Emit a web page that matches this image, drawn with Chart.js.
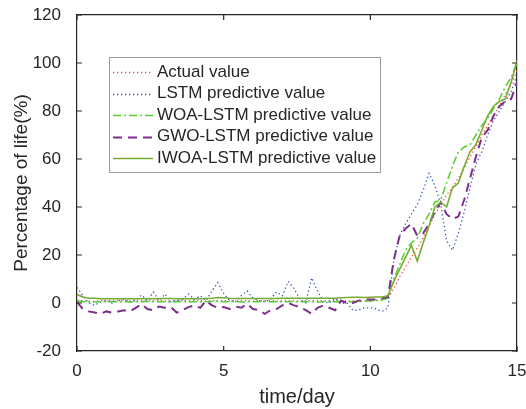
<!DOCTYPE html>
<html>
<head>
<meta charset="utf-8">
<script src="https://cdn.jsdelivr.net/npm/chart.js@4.4.1/dist/chart.umd.min.js"></script>
<style>
  html, body { margin: 0; padding: 0; background: #fff; }
</style>
</head>
<body>
<canvas id="myChart" width="526" height="409"></canvas>
<script>
// time axis (days)
const days = [0,0.2,0.4,0.6,0.8,1,1.2,1.4,1.6,1.8,
  2,2.2,2.4,2.6,2.8,3,3.2,3.4,3.6,3.8,
  4,4.2,4.4,4.6,4.8,5,5.2,5.4,5.6,5.8,
  6,6.2,6.4,6.6,6.8,7,7.2,7.4,7.6,7.8,
  8,8.2,8.4,8.6,8.8,9,9.2,9.4,9.6,9.8,
  10,10.2,10.4,10.6,10.8,11,11.2,11.4,11.6,11.8,
  12,12.2,12.4,12.6,12.8,13,13.2,13.4,13.6,13.8,
  14,14.2,14.4,14.6,14.8,15];

const actual = [1,1,0.8,0.8,1,1,0.9,1,1,0.8,
  1,1,0.9,1,1,0.8,1,1,1,0.9,
  1,1,0.8,1,1,1,0.9,1,1,1,
  0.8,1,1,1,0.9,1,1,1,0.8,1,
  1,1,0.9,1,1,1,0.8,1,1,1,
  1,1.2,1.5,2,6,11,15,19,23,27,
  32,37,41,45,48,52,56,61,65,70,
  74,78,82,87,91,97];

const lstm = [6.5,3,0,-1,0.5,1,0,1,1.5,0.5,
  1,3.3,1,4.5,1,3.7,0.5,1,1.5,3.7,
  1.5,3,1,5,8.5,4,1,0.5,3,5,
  2,1,0.5,1.5,4.6,3,9,6,1.5,0,
  10.5,5,0.5,0,2,0,0,-3,-3,-2,
  -2,-2.5,-3.5,-2,18,28,33,37,41,47,
  54,49,41,26,22,29,38,48,58,63,
  70,76,80,84,88,95];

const woaLstm = [1,0.5,0.5,0.4,0.5,0.5,0.6,0.5,0.5,0.4,
  0.5,0.5,0.6,0.5,0.5,0.5,0.4,0.5,0.6,0.5,
  0.5,0.5,0.5,0.6,0.7,0.5,0.5,0.5,0.4,0.5,
  0.5,0.5,0.6,0.5,0.5,0.5,0.5,0.6,0.5,0.5,
  0.5,0.4,0.5,0.5,0.6,0.5,0.5,0.5,0.6,0.7,
  0.8,1,1.2,2,10,16,22,25,27,33,
  37,42,43,50,57,63,65,66,70,74,
  77,81,85,90,94,100];

const gwoLstm = [0.5,-2.5,-3.5,-4,-4.5,-3.5,-4,-3.5,-3,-3.5,
  -2,-0.5,-2.5,-3,-1.5,-2,-1.7,-4,-3,-1.7,
  -1,-2,1,-1,-2,-1.7,-2.5,-1.5,-2,-0.4,
  -2.5,-3,-4.5,-3,-2.5,-1,0,-1,-1.7,-3,
  -4.5,-2,-1,-2,-3,1,0,0,1,1.5,
  1.5,1.5,2,2.5,18,28,31,33,28,29,
  33,38,42,37,35,36,43,52,61,69,
  72,78,82,84,85,92];

const iwoaLstm = [3.5,2.5,2,2,1.8,1.8,1.8,1.8,1.8,1.8,
  1.8,1.8,1.8,1.8,1.8,1.9,1.9,1.8,1.8,1.8,
  1.8,1.8,1.9,2,2.3,2.2,2,1.9,1.9,1.9,
  1.9,1.9,1.9,1.9,1.9,2,2,2,2,2,
  2,2,2,2,2,2.2,2.3,2.4,2.4,2.3,
  2.4,2.5,2.5,3,9,14,19,24,17.5,25,
  32,40,42,40,48,50,57,63,66,72,
  78,82,84,85,92,101];

const xTicks = [0, 5, 10, 15];
const yTicks = [-20, 0, 20, 40, 60, 80, 100, 120];

const FONT = "'Liberation Sans', Arial, sans-serif";
const AXIS = '#262626';

const pts = (arr) => days.map((d, i) => ({x: d, y: arr[i]}));

const data = {
  datasets: [
    { label: 'Actual value', data: pts(actual), borderColor: '#ff4a4a', borderWidth: 1.3, borderDash: [1.3, 2.7], order: 5 },
    { label: 'LSTM predictive value', data: pts(lstm), borderColor: '#3556c8', borderWidth: 1.3, borderDash: [1.3, 2.7], order: 4 },
    { label: 'WOA-LSTM predictive value', data: pts(woaLstm), borderColor: '#52cf2c', borderWidth: 1.5, borderDash: [8, 3, 2, 3], order: 3 },
    { label: 'GWO-LSTM predictive value', data: pts(gwoLstm), borderColor: '#7e2f8e', borderWidth: 2, borderDash: [9, 6], order: 2 },
    { label: 'IWOA-LSTM predictive value', data: pts(iwoaLstm), borderColor: '#77ac30', borderWidth: 1.6, order: 1 }
  ]
};

// inward ticks on all four sides, then the matlab-like legend
const ticksAndLegend = {
  id: 'ticksAndLegend',
  afterDraw(chart) {
    const {ctx} = chart;
    const x = chart.scales.x, y = chart.scales.y;
    const l = x.getPixelForValue(0);
    const r = x.getPixelForValue(15);
    const t = y.getPixelForValue(120);
    const b = y.getPixelForValue(-20);
    ctx.save();
    ctx.strokeStyle = AXIS;
    ctx.lineWidth = 1.2;
    ctx.setLineDash([]);
    ctx.beginPath();
    xTicks.forEach((v) => {
      const px = x.getPixelForValue(v);
      ctx.moveTo(px, b); ctx.lineTo(px, b - 5);
      ctx.moveTo(px, t); ctx.lineTo(px, t + 5);
    });
    yTicks.forEach((v) => {
      const py = y.getPixelForValue(v);
      ctx.moveTo(l, py); ctx.lineTo(l + 5, py);
      ctx.moveTo(r, py); ctx.lineTo(r - 5, py);
    });
    ctx.stroke();

    // legend
    const bx = 109, by = 57, bw = 271, bh = 115;
    ctx.fillStyle = '#fff';
    ctx.fillRect(bx, by, bw, bh);
    ctx.strokeStyle = '#9a9a9a';
    ctx.lineWidth = 1;
    ctx.strokeRect(bx + 0.5, by + 0.5, bw, bh);
    ctx.font = '17px ' + FONT;
    ctx.textBaseline = 'middle';
    chart.data.datasets.forEach((ds, i) => {
      const cy = 72 + i * 21.6;
      ctx.beginPath();
      ctx.strokeStyle = ds.borderColor;
      ctx.lineWidth = ds.borderWidth;
      ctx.setLineDash(ds.borderDash || []);
      ctx.moveTo(113, Math.round(cy) + 0.5);
      ctx.lineTo(153, Math.round(cy) + 0.5);
      ctx.stroke();
      ctx.setLineDash([]);
      ctx.fillStyle = AXIS;
      ctx.fillText(ds.label, 157, cy);
    });
    ctx.restore();
  }
};

const edge = { display: true, color: AXIS, width: 1.2 };

const config = {
  type: 'line',
  data,
  options: {
    responsive: false,
    animation: false,
    devicePixelRatio: 1,
    layout: { padding: { left: 0, top: 15, right: 9, bottom: 0 } },
    elements: { point: { radius: 0 }, line: { tension: 0 } },
    plugins: { legend: { display: false }, tooltip: { enabled: false } },
    scales: {
      x: {
        type: 'linear',
        min: 0, max: 15,
        afterFit(scale) {
          scale.height = 58;
          scale.paddingLeft = 0;
          scale.paddingRight = 0;
        },
        afterBuildTicks(scale) { scale.ticks = xTicks.map((v) => ({value: v})); },
        grid: { display: false },
        border: edge,
        ticks: { color: AXIS, font: { family: FONT, size: 17 }, padding: 2, maxRotation: 0 },
        title: { display: true, text: 'time/day', color: AXIS, font: { family: FONT, size: 20 }, padding: { top: 1, bottom: 0 } }
      },
      xTop: {
        type: 'linear',
        position: 'top',
        min: 0, max: 15,
        afterFit(scale) {
          scale.height = 0;
          scale.paddingLeft = 0;
          scale.paddingRight = 0;
        },
        grid: { display: false },
        border: edge,
        ticks: { display: false }
      },
      y: {
        min: -20, max: 120,
        afterFit(scale) {
          scale.width = 77;
          scale.paddingTop = 0;
          scale.paddingBottom = 0;
        },
        afterBuildTicks(scale) { scale.ticks = yTicks.map((v) => ({value: v})); },
        grid: { display: false },
        border: edge,
        ticks: { color: AXIS, font: { family: FONT, size: 17 }, padding: 8 },
        title: { display: true, text: 'Percentage of life(%)', color: AXIS, font: { family: FONT, size: 19 }, padding: { top: 10, bottom: 0 } }
      },
      yRight: {
        position: 'right',
        min: -20, max: 120,
        afterFit(scale) {
          scale.width = 0;
          scale.paddingTop = 0;
          scale.paddingBottom = 0;
        },
        grid: { display: false },
        border: edge,
        ticks: { display: false }
      }
    }
  },
  plugins: [ticksAndLegend]
};

const myChart = new Chart(document.getElementById('myChart'), config);
</script>
</body>
</html>
